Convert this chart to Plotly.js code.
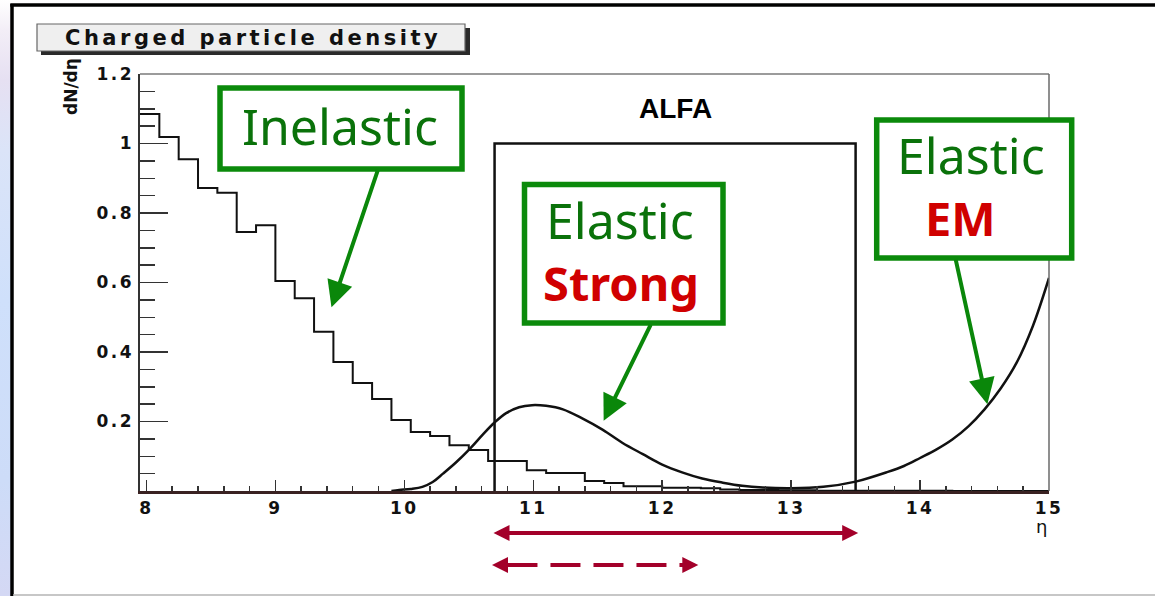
<!DOCTYPE html>
<html>
<head>
<meta charset="utf-8">
<script src="https://cdn.plot.ly/plotly-3.0.1.min.js"></script>
<style>
  html, body { margin: 0; padding: 0; background: #ffffff; }
  #chart {
    width: 1155px; height: 596px;
    background: linear-gradient(to bottom, #ffffff 0px, #f3eef7 30px, #e6e0f2 80px, #dbe4f8 150px, #cfe0fb 300px, #cddcf8 480px, #d4d8f4 596px);
  }
  #chart .xtick text, #chart .ytick text { letter-spacing: 2.5px; }
  #chart g.annotation[data-index="0"] text { letter-spacing: 3.5px; }
</style>
</head>
<body>
<div id="chart"></div>
<script>
// ---------------- data ----------------
// Inelastic charged particle density: histogram, 47 bins of width 0.15 from eta = 7.95 to 15.0
const histBinStart = 7.95;
const histBinWidth = 0.15;
const inelasticDensity = [
  1.085, 1.019, 0.955, 0.872, 0.858, 0.745, 0.765, 0.604, 0.555, 0.458,
  0.371, 0.311, 0.265, 0.204, 0.170, 0.158, 0.132, 0.118, 0.086, 0.086,
  0.060, 0.052, 0.052, 0.029, 0.023, 0.014, 0.014, 0.009, 0.009, 0.008,
  0.004, 0.003, 0.003, 0.002, 0.002, 0.001, 0.001, 0.001, 0.001, 0.0005,
  0.0005, 0.0005, 0.0003, 0.0003, 0.0002, 0.0002, 0.0001
];

// Elastic (strong + EM) density curve
const elasticEta = [
  9.90, 9.96, 10.05, 10.14, 10.22, 10.30, 10.40, 10.51, 10.61, 10.70,
  10.79, 10.89, 10.99, 11.10, 11.23, 11.38, 11.54, 11.69, 11.85, 12.00,
  12.16, 12.31, 12.47, 12.62, 12.78, 13.00, 13.25, 13.50, 13.75, 13.875,
  14.00, 14.125, 14.25, 14.375, 14.50, 14.625, 14.75, 14.875, 15.00
];
const elasticDensity = [
  0.000, 0.003, 0.006, 0.012, 0.026, 0.050, 0.082, 0.122, 0.163, 0.197,
  0.224, 0.241, 0.247, 0.245, 0.235, 0.209, 0.176, 0.139, 0.106, 0.076,
  0.053, 0.036, 0.024, 0.015, 0.010, 0.008, 0.012, 0.027, 0.055, 0.072,
  0.095, 0.119, 0.148, 0.186, 0.235, 0.295, 0.370, 0.475, 0.613
];

// ALFA acceptance window
const alfaEtaRange = [10.7, 13.5];
const alfaLevel = 1.0;
const dashedRangeEnd = 12.28;

// axis ticks
const yTickValues = [0.2, 0.4, 0.6, 0.8, 1.0, 1.2];
const yTickLabels = ['0.2', '0.4', '0.6', '0.8', '1', '1.2'];
const xRange = [7.95, 15.0];
const yRange = [0, 1.2];

// ---------------- build traces ----------------
const histX = [];
const histY = [];
for (let i = 0; i < inelasticDensity.length; i++) {
  histX.push(Number((histBinStart + i * histBinWidth).toFixed(3)));
  histY.push(inelasticDensity[i]);
}
histX.push(Number((histBinStart + inelasticDensity.length * histBinWidth).toFixed(3)));
histY.push(inelasticDensity[inelasticDensity.length - 1]);

const traces = [
  {
    type: 'scatter', mode: 'lines', x: histX, y: histY,
    line: { shape: 'hv', color: '#111111', width: 2 }, hoverinfo: 'skip'
  },
  {
    type: 'scatter', mode: 'lines', x: elasticEta, y: elasticDensity,
    line: { shape: 'spline', smoothing: 1, color: '#111111', width: 2.5 }, hoverinfo: 'skip'
  },
  {
    type: 'scatter', mode: 'lines',
    x: [alfaEtaRange[0], alfaEtaRange[0], alfaEtaRange[1], alfaEtaRange[1]],
    y: [0, alfaLevel, alfaLevel, 0],
    line: { color: '#111111', width: 2.5 }, hoverinfo: 'skip'
  }
];

// ---------------- layout helpers (pixel -> paper) ----------------
const W = 1155, H = 596;
const M = { l: 140, r: 106, t: 74, b: 105 };
const PW = W - M.l - M.r, PH = H - M.t - M.b;
const PX = px => (px - M.l) / PW;
const PY = py => (H - M.b - py) / PH;

const GREEN_LINE = '#0b8a0b';
const GREEN_TEXT = '#0a720a';
const RED_TEXT = '#d00000';
const DARK_RED = '#a3002a';
const comic = '"Comic Sans MS", "Noto Sans", sans-serif';

const shapes = [
  // slide panel and frame
  { type: 'rect', xref: 'paper', yref: 'paper', x0: PX(12), x1: PX(1170), y0: PY(600), y1: PY(5),
    fillcolor: '#ffffff', line: { width: 0 }, layer: 'below' },
  { type: 'line', xref: 'paper', yref: 'paper', x0: PX(12), x1: PX(12), y0: PY(4), y1: PY(600),
    line: { color: '#000000', width: 3.5 }, layer: 'below' },
  { type: 'line', xref: 'paper', yref: 'paper', x0: PX(10.3), x1: PX(1170), y0: PY(5), y1: PY(5),
    line: { color: '#000000', width: 3.5 }, layer: 'below' },
  { type: 'line', xref: 'paper', yref: 'paper', x0: PX(13), x1: PX(1170), y0: PY(595), y1: PY(595),
    line: { color: '#b4b4b4', width: 1.5 }, layer: 'below' },
  // title pave
  { type: 'rect', xref: 'paper', yref: 'paper', x0: PX(41), x1: PX(470), y0: PY(55), y1: PY(28),
    fillcolor: '#2a2a2a', line: { width: 0 }, layer: 'above' },
  { type: 'rect', xref: 'paper', yref: 'paper', x0: PX(37), x1: PX(465), y0: PY(51), y1: PY(24),
    fillcolor: '#efefef', line: { color: '#666666', width: 1.2 }, layer: 'above' },
  // plot frame top/right
  { type: 'line', xref: 'paper', yref: 'paper', x0: 0, x1: 1, y0: 1, y1: 1,
    line: { color: '#7a7a7a', width: 1.5 }, layer: 'above' },
  { type: 'line', xref: 'paper', yref: 'paper', x0: 1, x1: 1, y0: 0, y1: 1,
    line: { color: '#6a6a6a', width: 1.5 }, layer: 'above' },
  // green label boxes
  { type: 'rect', xref: 'paper', yref: 'paper', x0: PX(220), x1: PX(462), y0: PY(169), y1: PY(88),
    fillcolor: '#ffffff', line: { color: GREEN_LINE, width: 5.5 }, layer: 'above' },
  { type: 'rect', xref: 'paper', yref: 'paper', x0: PX(524.5), x1: PX(723), y0: PY(323), y1: PY(184.5),
    fillcolor: '#ffffff', line: { color: GREEN_LINE, width: 5.5 }, layer: 'above' },
  { type: 'rect', xref: 'paper', yref: 'paper', x0: PX(876.7), x1: PX(1071.7), y0: PY(258), y1: PY(120),
    fillcolor: '#ffffff', line: { color: GREEN_LINE, width: 5.5 }, layer: 'above' },
  // dashed range line (between its arrow heads)
  { type: 'line', xref: 'x', yref: 'paper',
    x0: alfaEtaRange[0] + 0.1, x1: dashedRangeEnd - 0.12, y0: PY(565), y1: PY(565),
    line: { color: DARK_RED, width: 4, dash: '30px,13px' }, layer: 'above' }
];

const txt = (text, x, y, font, extra) => Object.assign({
  text: text, xref: 'paper', yref: 'paper', x: x, y: y,
  xanchor: 'center', yanchor: 'middle', showarrow: false, font: font
}, extra || {});

const annotations = [
  txt('Charged particle density', PX(253), PY(38),
      { family: 'DejaVu Sans, sans-serif', size: 21, weight: 'bold', color: '#111111' }),
  txt('ALFA', (alfaEtaRange[0] + alfaEtaRange[1]) / 2, PY(108),
      { family: 'Liberation Sans, Arial, sans-serif', size: 28, weight: 'bold', color: '#000000' },
      { xref: 'x' }),
  txt('Inelastic', PX(340), PY(126), { family: comic, size: 50, color: GREEN_TEXT }),
  txt('Elastic', PX(620), PY(220), { family: comic, size: 50, color: GREEN_TEXT }),
  txt('Strong', PX(621), PY(283), { family: comic, size: 47, weight: 'bold', color: RED_TEXT }),
  txt('Elastic', PX(971), PY(155), { family: comic, size: 50, color: GREEN_TEXT }),
  txt('EM', PX(960), PY(218), { family: comic, size: 47, weight: 'bold', color: RED_TEXT }),
  txt('dN/dη', PX(71), PY(87), { family: 'DejaVu Sans, sans-serif', size: 17, weight: 'bold', color: '#111111' },
      { textangle: -90 }),
  txt('η', PX(1041), PY(526), { family: 'DejaVu Sans, sans-serif', size: 18, color: '#111111' }),
  // green arrows
  { xref: 'x', yref: 'y', axref: 'x', ayref: 'y', x: 9.435, y: 0.529, ax: 9.80, ay: 0.929, text: '',
    showarrow: true, arrowhead: 2, arrowsize: 1.3, arrowwidth: 4, arrowcolor: '#0a870a', standoff: 0 },
  { xref: 'x', yref: 'y', axref: 'x', ayref: 'y', x: 11.546, y: 0.202, ax: 11.917, ay: 0.483, text: '',
    showarrow: true, arrowhead: 2, arrowsize: 1.3, arrowwidth: 4, arrowcolor: '#0a870a', standoff: 0 },
  { xref: 'x', yref: 'y', axref: 'x', ayref: 'y', x: 14.522, y: 0.250, ax: 14.274, ay: 0.670, text: '',
    showarrow: true, arrowhead: 2, arrowsize: 1.3, arrowwidth: 4, arrowcolor: '#0a870a', standoff: 0 },
  // ALFA range arrows
  { xref: 'x', yref: 'paper', axref: 'x', ayref: 'pixel', x: alfaEtaRange[1] + 0.02, y: PY(533),
    ax: alfaEtaRange[0] - 0.02, ay: 0, text: '', showarrow: true, arrowside: 'end+start',
    arrowhead: 2, startarrowhead: 2, arrowsize: 0.8, startarrowsize: 0.8, arrowwidth: 4,
    arrowcolor: DARK_RED, standoff: 0, startstandoff: 0 },
  { xref: 'x', yref: 'paper', axref: 'pixel', ayref: 'pixel', x: alfaEtaRange[0] - 0.02, y: PY(565),
    ax: 18, ay: 0, text: '', showarrow: true, arrowhead: 2, arrowsize: 0.8, arrowwidth: 4,
    arrowcolor: DARK_RED, standoff: 0 },
  { xref: 'x', yref: 'paper', axref: 'pixel', ayref: 'pixel', x: dashedRangeEnd, y: PY(565),
    ax: -18, ay: 0, text: '', showarrow: true, arrowhead: 2, arrowsize: 0.8, arrowwidth: 4,
    arrowcolor: DARK_RED, standoff: 0 }
];

const tickFont = { family: 'DejaVu Sans, sans-serif', size: 17, weight: 'bold', color: '#111111' };

const layout = {
  width: W, height: H,
  margin: M,
  paper_bgcolor: 'rgba(0,0,0,0)',
  plot_bgcolor: '#ffffff',
  showlegend: false,
  xaxis: {
    range: xRange, tickmode: 'linear', tick0: 0, dtick: 1,
    ticks: 'inside', ticklen: 11, tickwidth: 1.5, tickcolor: '#333333',
    minor: { tickmode: 'linear', tick0: 0, dtick: 0.2, ticks: 'inside', ticklen: 5, tickwidth: 1.5, tickcolor: '#333333', showgrid: false },
    showline: true, linecolor: '#3a2222', linewidth: 2.5,
    showgrid: false, zeroline: false, tickfont: tickFont
  },
  yaxis: {
    range: yRange, tickmode: 'array', tickvals: yTickValues, ticktext: yTickLabels,
    ticks: 'inside', ticklen: 28, tickwidth: 1.5, tickcolor: '#333333',
    minor: { tickmode: 'linear', tick0: 0, dtick: 0.05, ticks: 'inside', ticklen: 15, tickwidth: 1.5, tickcolor: '#333333', showgrid: false },
    showline: true, linecolor: '#333333', linewidth: 2.5,
    showgrid: false, zeroline: false, tickfont: tickFont
  },
  shapes: shapes,
  annotations: annotations
};

Plotly.newPlot('chart', traces, layout, { staticPlot: true, displayModeBar: false });
</script>
</body>
</html>
